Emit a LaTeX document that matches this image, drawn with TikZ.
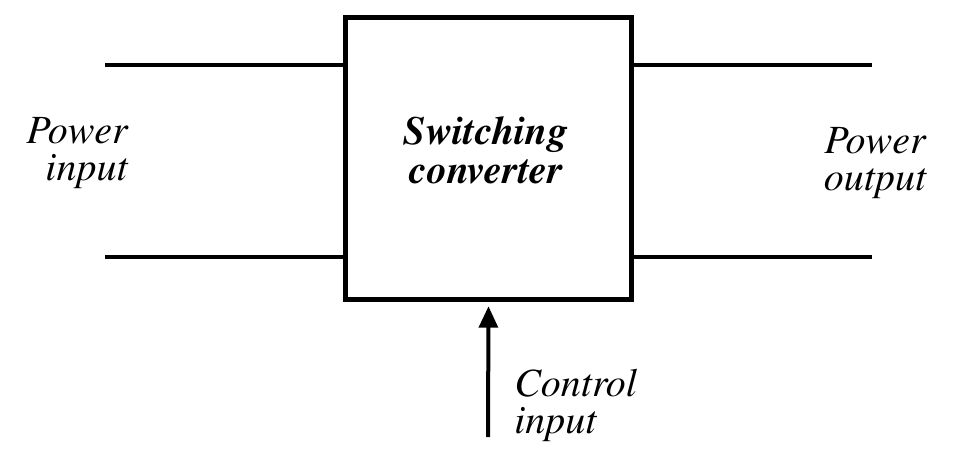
\documentclass[tikz,border=0pt]{standalone}
\usepackage[T1]{fontenc}
\usepackage{mathptmx}
\usetikzlibrary{arrows.meta}
\begin{document}
\begin{tikzpicture}[
x=0.75pt, y=-0.75pt,
conv/.style={draw, line width=3.6pt, minimum width=215pt, minimum height=212pt, inner sep=0pt},
wire/.style={line width=2.4pt},
ctrl/.style={line width=3pt, -{Triangle[length=16pt, width=14pt]}, shorten >=3pt},
lbl/.style={font=\fontsize{30}{28}\selectfont\itshape, inner sep=0pt},
blbl/.style={font=\fontsize{30}{29}\selectfont\bfseries\itshape, inner sep=0pt}
]

\useasboundingbox (0,0) rectangle (953,453);

%%% converter
\node[conv] (sw) at (488.5,158.5) {};
\node[blbl, align=center, anchor=north] (swtxt) at (486,117) {Switching\\converter};

%%% power lines
\foreach \name/\x/\y in {in1/105/65, in2/105/257, out1/872/65, out2/872/257}{
	\coordinate (\name) at (\x,\y);
}
\foreach \name in {in1, in2}{
	\draw[wire] (\name) -- (\name -| sw.west);
}
\foreach \name in {out1, out2}{
	\draw[wire] (\name) -- (\name -| sw.east);
}

%%% control
\coordinate (ctrlin) at (488,437);
\draw[ctrl] (ctrlin) -- (sw.south);

%%% labels
\node[lbl, align=right, anchor=north east] (pin) at (128,117) {Power\\input};
\node[lbl, align=center, anchor=north] (pout) at (875,127) {Power\\output};
\node[lbl, align=left, anchor=north west] (cin) at (514,369) {Control\\input};

\end{tikzpicture}
\end{document}
